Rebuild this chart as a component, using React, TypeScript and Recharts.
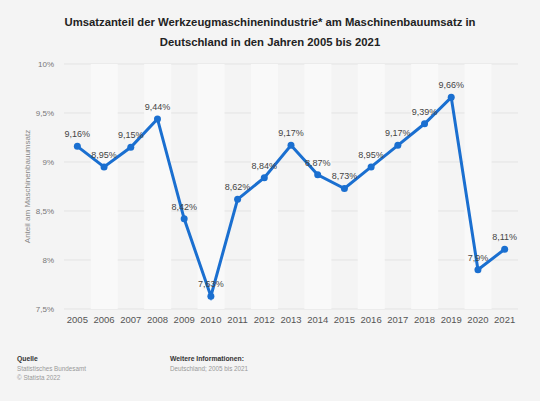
import React from 'react';
import {
  ComposedChart,
  Line,
  Bar,
  XAxis,
  YAxis,
  CartesianGrid,
  LabelList,
} from 'recharts';

const years = ['2005', '2006', '2007', '2008', '2009', '2010', '2011', '2012', '2013', '2014', '2015', '2016', '2017', '2018', '2019', '2020', '2021'];
const shares = [9.16, 8.95, 9.15, 9.44, 8.42, 7.63, 8.62, 8.84, 9.17, 8.87, 8.73, 8.95, 9.17, 9.39, 9.66, 7.9, 8.11];
const yTicks = [7.5, 8, 8.5, 9, 9.5, 10];

const fmt = (v: number) => String(v).replace('.', ',') + '%';

const data = years.map((year, i) => ({
  year,
  share: shares[i],
  band: i % 2 === 1 ? 10 : null,
}));

const font = '"Liberation Sans", Arial, sans-serif';

export default function App() {
  return (
    <div style={{ position: 'absolute', left: 0, top: 0, width: 540, height: 401, background: '#f4f4f4', fontFamily: font, overflow: 'hidden' }}>
      <div style={{ position: 'absolute', top: 12, left: 0, width: 540, textAlign: 'center', fontSize: 11.3, fontWeight: 'bold', lineHeight: '20px', color: '#222' }}>
        Umsatzanteil der Werkzeugmaschinenindustrie* am Maschinenbauumsatz in
        <br />
        Deutschland in den Jahren 2005 bis 2021
      </div>

      <ComposedChart
        width={540}
        height={401}
        data={data}
        margin={{ top: 64, right: 22, bottom: 62, left: 0 }}
        barCategoryGap={0}
      >
        <CartesianGrid vertical={false} stroke="#e3e3e3" />
        <XAxis
          dataKey="year"
          height={30}
          tickLine={false}
          axisLine={false}
          tickMargin={1}
          tick={{ fontSize: 9.5, fill: '#555', fontFamily: font }}
          interval={0}
        />
        <YAxis
          width={64}
          domain={[7.5, 10]}
          ticks={yTicks}
          tickFormatter={fmt}
          tickLine={false}
          axisLine={false}
          tickMargin={4}
          tick={{ fontSize: 8, fill: '#777', fontFamily: font }}
          label={{ value: 'Anteil am Maschinenbauumsatz', angle: -90, position: 'insideLeft', offset: 27, style: { fontSize: 8, fill: '#888', fontFamily: font, textAnchor: 'middle' } }}
        />
        <Bar dataKey="band" fill="#f9f9f9" isAnimationActive={false} />
        <Line
          dataKey="share"
          stroke="#1a6fd0"
          strokeWidth={3}
          dot={{ r: 3.5, fill: '#1a6fd0', stroke: '#1a6fd0', strokeWidth: 0 }}
          activeDot={false}
          isAnimationActive={false}
        >
          <LabelList dataKey="share" position="top" offset={9} formatter={(v: number) => fmt(v)} style={{ fontSize: 9, fill: '#444', fontFamily: font }} />
        </Line>
      </ComposedChart>

      <div style={{ position: 'absolute', top: 354, left: 17, fontSize: 6.3, lineHeight: '9.5px', color: '#999' }}>
        <div style={{ color: '#333', fontWeight: 'bold', fontSize: 6.8 }}>Quelle</div>
        <div>Statistisches Bundesamt</div>
        <div>© Statista 2022</div>
      </div>
      <div style={{ position: 'absolute', top: 354, left: 170, fontSize: 6.3, lineHeight: '9.5px', color: '#999' }}>
        <div style={{ color: '#333', fontWeight: 'bold', fontSize: 6.8 }}>Weitere Informationen:</div>
        <div>Deutschland; 2005 bis 2021</div>
      </div>
    </div>
  );
}
